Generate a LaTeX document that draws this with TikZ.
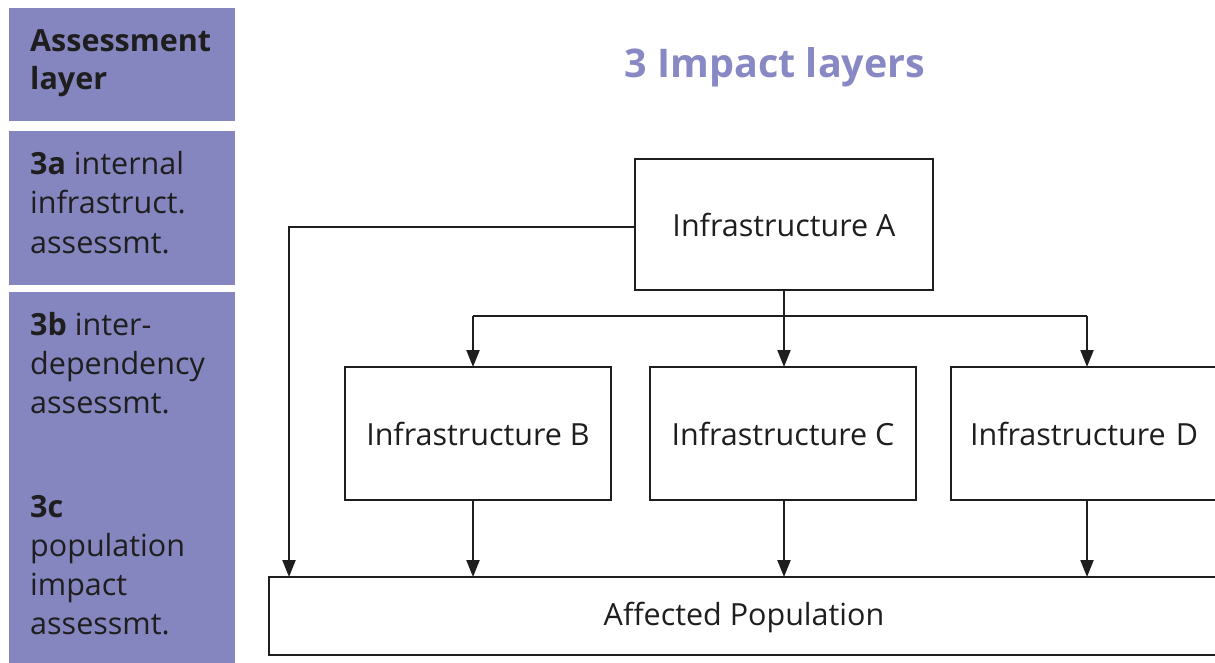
\documentclass[tikz,border=0pt]{standalone}
\usepackage{fontspec}
\setmainfont{Open Sans}
\usetikzlibrary{arrows.meta}
\definecolor{panel}{HTML}{8585C0}
\definecolor{titlecol}{HTML}{8888C4}
\definecolor{ink}{HTML}{1E1E1E}
\tikzset{
  panelbox/.style={fill=panel, draw=none},
  paneltext/.style={anchor=base west, inner sep=0pt, text=ink, font=\fontsize{30.5}{39}\selectfont},
  infra/.style={draw=ink, line width=2.6pt, fill=white, inner sep=0pt,
    font=\fontsize{30.5}{36}\selectfont, text=ink},
  link/.style={draw=ink, line width=2.2pt, -{Triangle[width=13pt,length=17pt]}},
  plain/.style={draw=ink, line width=2.2pt},
}
\begin{document}
\begin{tikzpicture}[x=1pt,y=-1pt]
\useasboundingbox (0,0) rectangle (1215,663);
\clip (0,0) rectangle (1215,663);

% left column: assessment layers
\fill[panelbox] (9,8) rectangle (235,121);
\fill[panelbox] (9,131) rectangle (235,285);
\fill[panelbox] (9,292) rectangle (235,663);

\node[paneltext] (h1) at (30,52) {\bfseries Assessment};
\node[paneltext] (h2) at (30,90) {\bfseries layer};

\node[paneltext] (a1) at (30,175) {\textbf{3a} internal};
\node[paneltext] (a2) at (30,214) {infrastruct.};
\node[paneltext] (a3) at (30,253) {assessmt.};

\node[paneltext] (b1) at (30,335) {\textbf{3b} inter-};
\node[paneltext] (b2) at (30,374) {dependency};
\node[paneltext] (b3) at (30,413) {assessmt.};

\node[paneltext] (c1) at (30,517) {\textbf{3c}};
\node[paneltext] (c2) at (30,556) {population};
\node[paneltext] (c3) at (30,595) {impact};
\node[paneltext] (c4) at (30,634) {assessmt.};

% title
\node[text=titlecol, font=\bfseries\fontsize{39.5}{46}\selectfont] (title) at (775,67) {3 Impact layers};

% infrastructure boxes
\node[infra, minimum width=298pt, minimum height=131pt] (A) at (784,224.5) {Infrastructure A};
\node[infra, minimum width=266pt, minimum height=133pt] (B) at (478,433.5) {Infrastructure B};
\node[infra, minimum width=266pt, minimum height=133pt] (C) at (783,433.5) {Infrastructure C};
\node[infra, minimum width=270pt, minimum height=133pt, text width=232pt, align=left] (D) at (1086,433.5) {Infrastructure D};
\node[infra, minimum width=1040pt, minimum height=78pt] (P) at (789,616) {};
\node[font=\fontsize{30.5}{36}\selectfont, text=ink] (Plabel) at (744,617) {Affected Population};

% connectors
\coordinate (split) at (784,316);
\coordinate (corner) at (289,227);
\draw[plain] (A.south) -- (split);
\draw[plain] (473,316) -- (1087,316);
\draw[link] (473,316) -- (473,367);
\draw[link] (split) -- (784,367);
\draw[link] (1087,316) -- (1087,367);
\draw[link] (A.west |- corner) -- (corner) -- (289,577);
\draw[link] (473,500) -- (473,577);
\draw[link] (784,500) -- (784,577);
\draw[link] (1087,500) -- (1087,577);
\end{tikzpicture}
\end{document}
